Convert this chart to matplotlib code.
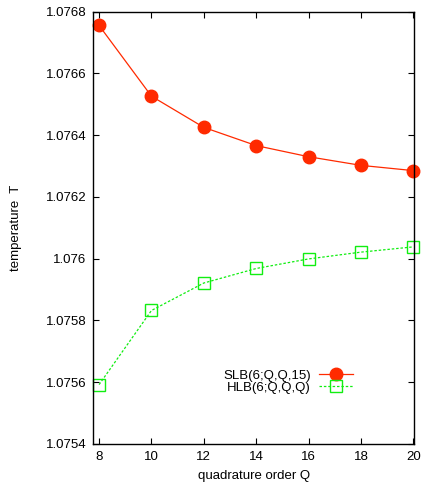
import matplotlib
matplotlib.use('Agg')
import matplotlib.pyplot as plt

plt.rcParams['font.family'] = ['Liberation Sans', 'DejaVu Sans']

Q = [8, 10, 12, 14, 16, 18, 20]
slb = [1.076755, 1.076526, 1.076425, 1.076366, 1.076330, 1.076302, 1.076285]
hlb = [1.075592, 1.075832, 1.075921, 1.075968, 1.075999, 1.076021, 1.076038]
yticks = [1.0754, 1.0756, 1.0758, 1.076, 1.0762, 1.0764, 1.0766, 1.0768]
ytick_labels = ['1.0754', '1.0756', '1.0758', '1.076', '1.0762', '1.0764', '1.0766', '1.0768']

fig = plt.figure(figsize=(4.23, 4.83), dpi=100)
ax = fig.add_axes([0.22, 0.081, 0.759, 0.895])

ax.plot(Q, slb, color='#ff2a00', lw=0.9, marker='o', ms=9, mfc='#ff2a00', mec='#ff2a00',
        label='SLB(6;Q,Q,15)', clip_on=False)
ax.plot(Q, hlb, color='#11ee11', lw=0.9, ls=(0, (2, 1.5)), marker='s', ms=9, mfc='none',
        mec='#11ee11', mew=1.0, label='HLB(6;Q,Q,Q)', clip_on=False)

ax.set_xlim(7.77, 20.03)
ax.set_ylim(1.0754, 1.0768)
ax.set_xticks(Q)
ax.set_yticks(yticks)
ax.set_yticklabels(ytick_labels)
ax.tick_params(direction='in', top=True, right=True, length=4, width=0.8, labelsize=9.5, pad=5)
for s in ax.spines.values():
    s.set_linewidth(1.0)

ax.set_xlabel('quadrature order Q', fontsize=9.5, labelpad=5)
ax.set_ylabel('temperature  T', fontsize=9.5, labelpad=17)

ax.legend(loc='lower right', bbox_to_anchor=(0.83, 0.10), frameon=False, markerfirst=False,
          fontsize=9.5, handlelength=2.6, handletextpad=0.6, labelspacing=0.0, borderpad=0)

fig.savefig('out.png', dpi=100)
